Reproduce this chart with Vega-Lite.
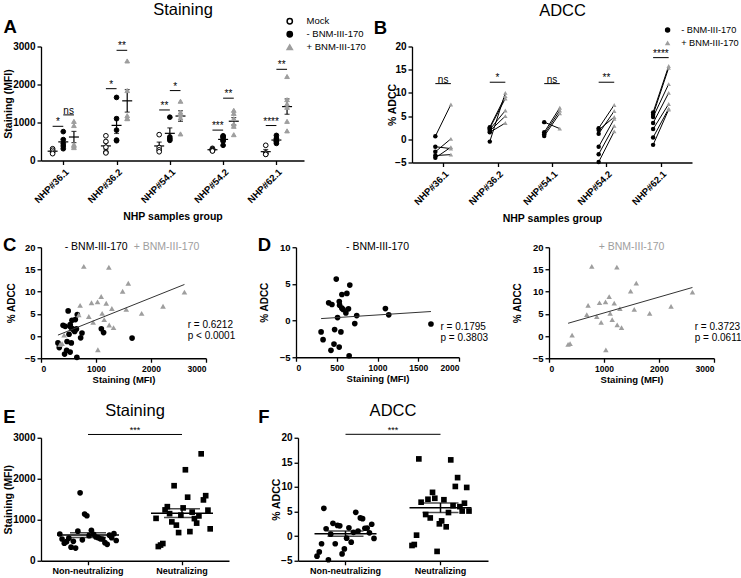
{
"$schema": "https://vega.github.io/schema/vega-lite/v6.json",
"padding": {"left": 3, "top": 1.5, "right": 0, "bottom": 0},
"background": "#ffffff",
"config": {
  "font": "Liberation Sans",
  "view": {"stroke": null},
  "axis": {"grid": false, "domainColor": "#000000", "domainWidth": 1.3, "tickColor": "#000000", "tickWidth": 1.3, "tickSize": 4, "labelColor": "#000000", "labelFont": "Liberation Sans", "labelFontWeight": "bold", "labelFontSize": 10, "labelPadding": 2, "titleFont": "Liberation Sans", "titleFontWeight": "bold", "titleFontSize": 10.5, "titleColor": "#000000", "labelOverlap": false},
  "title": {"font": "Liberation Sans", "fontSize": 18.5, "fontWeight": "bold", "anchor": "start", "frame": "bounds", "color": "#000000", "baseline": "bottom"},
  "legend": {"labelFont": "Liberation Sans", "labelFontSize": 9.5, "labelColor": "#000000", "padding": 0},
  "text": {"font": "Liberation Sans", "color": "#000000"}
},
"datasets": {
  "stain": [
    {"nhp":"NHP#36.1","cond":"Mock","mfi":310},{"nhp":"NHP#36.1","cond":"Mock","mfi":270},{"nhp":"NHP#36.1","cond":"Mock","mfi":220},{"nhp":"NHP#36.1","cond":"Mock","mfi":180},
    {"nhp":"NHP#36.1","cond":"-","mfi":760},{"nhp":"NHP#36.1","cond":"-","mfi":550},{"nhp":"NHP#36.1","cond":"-","mfi":450},{"nhp":"NHP#36.1","cond":"-","mfi":380},{"nhp":"NHP#36.1","cond":"-","mfi":310},
    {"nhp":"NHP#36.1","cond":"+","mfi":1030},{"nhp":"NHP#36.1","cond":"+","mfi":920},{"nhp":"NHP#36.1","cond":"+","mfi":420},{"nhp":"NHP#36.1","cond":"+","mfi":380},{"nhp":"NHP#36.1","cond":"+","mfi":340},
    {"nhp":"NHP#36.2","cond":"Mock","mfi":650},{"nhp":"NHP#36.2","cond":"Mock","mfi":500},{"nhp":"NHP#36.2","cond":"Mock","mfi":350},{"nhp":"NHP#36.2","cond":"Mock","mfi":220},{"nhp":"NHP#36.2","cond":"Mock","mfi":200},
    {"nhp":"NHP#36.2","cond":"-","mfi":1660},{"nhp":"NHP#36.2","cond":"-","mfi":1100},{"nhp":"NHP#36.2","cond":"-","mfi":800},{"nhp":"NHP#36.2","cond":"-","mfi":540},{"nhp":"NHP#36.2","cond":"-","mfi":520},
    {"nhp":"NHP#36.2","cond":"+","mfi":2620},{"nhp":"NHP#36.2","cond":"+","mfi":1840},{"nhp":"NHP#36.2","cond":"+","mfi":1180},{"nhp":"NHP#36.2","cond":"+","mfi":1110},{"nhp":"NHP#36.2","cond":"+","mfi":1100},
    {"nhp":"NHP#54.1","cond":"Mock","mfi":680},{"nhp":"NHP#54.1","cond":"Mock","mfi":340},{"nhp":"NHP#54.1","cond":"Mock","mfi":280},{"nhp":"NHP#54.1","cond":"Mock","mfi":230},
    {"nhp":"NHP#54.1","cond":"-","mfi":1140},{"nhp":"NHP#54.1","cond":"-","mfi":620},{"nhp":"NHP#54.1","cond":"-","mfi":570},{"nhp":"NHP#54.1","cond":"-","mfi":530},
    {"nhp":"NHP#54.1","cond":"+","mfi":1560},{"nhp":"NHP#54.1","cond":"+","mfi":1270},{"nhp":"NHP#54.1","cond":"+","mfi":1200},{"nhp":"NHP#54.1","cond":"+","mfi":1120},{"nhp":"NHP#54.1","cond":"+","mfi":700},
    {"nhp":"NHP#54.2","cond":"Mock","mfi":320},{"nhp":"NHP#54.2","cond":"Mock","mfi":300},{"nhp":"NHP#54.2","cond":"Mock","mfi":290},{"nhp":"NHP#54.2","cond":"Mock","mfi":280},{"nhp":"NHP#54.2","cond":"Mock","mfi":260},{"nhp":"NHP#54.2","cond":"Mock","mfi":250},
    {"nhp":"NHP#54.2","cond":"-","mfi":650},{"nhp":"NHP#54.2","cond":"-","mfi":630},{"nhp":"NHP#54.2","cond":"-","mfi":600},{"nhp":"NHP#54.2","cond":"-","mfi":540},{"nhp":"NHP#54.2","cond":"-","mfi":510},{"nhp":"NHP#54.2","cond":"-","mfi":400},
    {"nhp":"NHP#54.2","cond":"+","mfi":1320},{"nhp":"NHP#54.2","cond":"+","mfi":1240},{"nhp":"NHP#54.2","cond":"+","mfi":1100},{"nhp":"NHP#54.2","cond":"+","mfi":960},{"nhp":"NHP#54.2","cond":"+","mfi":900},{"nhp":"NHP#54.2","cond":"+","mfi":680},
    {"nhp":"NHP#62.1","cond":"Mock","mfi":400},{"nhp":"NHP#62.1","cond":"Mock","mfi":200},{"nhp":"NHP#62.1","cond":"Mock","mfi":170},{"nhp":"NHP#62.1","cond":"Mock","mfi":160},
    {"nhp":"NHP#62.1","cond":"-","mfi":660},{"nhp":"NHP#62.1","cond":"-","mfi":580},{"nhp":"NHP#62.1","cond":"-","mfi":540},{"nhp":"NHP#62.1","cond":"-","mfi":510},{"nhp":"NHP#62.1","cond":"-","mfi":490},{"nhp":"NHP#62.1","cond":"-","mfi":450},
    {"nhp":"NHP#62.1","cond":"+","mfi":2210},{"nhp":"NHP#62.1","cond":"+","mfi":1600},{"nhp":"NHP#62.1","cond":"+","mfi":1490},{"nhp":"NHP#62.1","cond":"+","mfi":1400},{"nhp":"NHP#62.1","cond":"+","mfi":1030},{"nhp":"NHP#62.1","cond":"+","mfi":780}
  ],
  "sigA": [
    {"nhp":"NHP#36.1","pair":"m-","mfi":900,"label":"*"},{"nhp":"NHP#36.1","pair":"-+","mfi":1200,"label":"ns"},
    {"nhp":"NHP#36.2","pair":"m-","mfi":1890,"label":"*"},{"nhp":"NHP#36.2","pair":"-+","mfi":2900,"label":"**"},
    {"nhp":"NHP#54.1","pair":"m-","mfi":1330,"label":"**"},{"nhp":"NHP#54.1","pair":"-+","mfi":1840,"label":"*"},
    {"nhp":"NHP#54.2","pair":"m-","mfi":800,"label":"***"},{"nhp":"NHP#54.2","pair":"-+","mfi":1640,"label":"**"},
    {"nhp":"NHP#62.1","pair":"m-","mfi":920,"label":"****"},{"nhp":"NHP#62.1","pair":"-+","mfi":2400,"label":"**"}
  ],
  "adccB": [
    {"nhp":"NHP#36.1","pair":1,"cond":"-","adcc":0.65},{"nhp":"NHP#36.1","pair":1,"cond":"+","adcc":7.5},
    {"nhp":"NHP#36.1","pair":2,"cond":"-","adcc":-1.6},{"nhp":"NHP#36.1","pair":2,"cond":"+","adcc":-2.0},
    {"nhp":"NHP#36.1","pair":3,"cond":"-","adcc":-2.7},{"nhp":"NHP#36.1","pair":3,"cond":"+","adcc":0.1},
    {"nhp":"NHP#36.1","pair":4,"cond":"-","adcc":-3.5},{"nhp":"NHP#36.1","pair":4,"cond":"+","adcc":-3.3},
    {"nhp":"NHP#36.1","pair":5,"cond":"-","adcc":-4.0},{"nhp":"NHP#36.1","pair":5,"cond":"+","adcc":-1.7},
    {"nhp":"NHP#36.2","pair":6,"cond":"-","adcc":-0.5},{"nhp":"NHP#36.2","pair":6,"cond":"+","adcc":10.0},
    {"nhp":"NHP#36.2","pair":7,"cond":"-","adcc":2.6},{"nhp":"NHP#36.2","pair":7,"cond":"+","adcc":9.3},
    {"nhp":"NHP#36.2","pair":8,"cond":"-","adcc":2.4},{"nhp":"NHP#36.2","pair":8,"cond":"+","adcc":8.8},
    {"nhp":"NHP#36.2","pair":9,"cond":"-","adcc":2.1},{"nhp":"NHP#36.2","pair":9,"cond":"+","adcc":6.2},
    {"nhp":"NHP#36.2","pair":10,"cond":"-","adcc":1.8},{"nhp":"NHP#36.2","pair":10,"cond":"+","adcc":5.0},
    {"nhp":"NHP#36.2","pair":11,"cond":"-","adcc":1.5},{"nhp":"NHP#36.2","pair":11,"cond":"+","adcc":3.5},
    {"nhp":"NHP#54.1","pair":12,"cond":"-","adcc":3.7},{"nhp":"NHP#54.1","pair":12,"cond":"+","adcc":2.3},
    {"nhp":"NHP#54.1","pair":13,"cond":"-","adcc":1.5},{"nhp":"NHP#54.1","pair":13,"cond":"+","adcc":6.8},
    {"nhp":"NHP#54.1","pair":14,"cond":"-","adcc":1.1},{"nhp":"NHP#54.1","pair":14,"cond":"+","adcc":6.2},
    {"nhp":"NHP#54.1","pair":15,"cond":"-","adcc":0.7},{"nhp":"NHP#54.1","pair":15,"cond":"+","adcc":5.6},
    {"nhp":"NHP#54.2","pair":16,"cond":"-","adcc":2.4},{"nhp":"NHP#54.2","pair":16,"cond":"+","adcc":7.4},
    {"nhp":"NHP#54.2","pair":17,"cond":"-","adcc":1.2},{"nhp":"NHP#54.2","pair":17,"cond":"+","adcc":6.1},
    {"nhp":"NHP#54.2","pair":18,"cond":"-","adcc":2.0},{"nhp":"NHP#54.2","pair":18,"cond":"+","adcc":4.8},
    {"nhp":"NHP#54.2","pair":19,"cond":"-","adcc":-1.6},{"nhp":"NHP#54.2","pair":19,"cond":"+","adcc":4.4},
    {"nhp":"NHP#54.2","pair":20,"cond":"-","adcc":-3.2},{"nhp":"NHP#54.2","pair":20,"cond":"+","adcc":2.9},
    {"nhp":"NHP#54.2","pair":21,"cond":"-","adcc":-4.9},{"nhp":"NHP#54.2","pair":21,"cond":"+","adcc":1.7},
    {"nhp":"NHP#62.1","pair":22,"cond":"-","adcc":5.8},{"nhp":"NHP#62.1","pair":22,"cond":"+","adcc":15.8},
    {"nhp":"NHP#62.1","pair":23,"cond":"-","adcc":5.3},{"nhp":"NHP#62.1","pair":23,"cond":"+","adcc":15.4},
    {"nhp":"NHP#62.1","pair":24,"cond":"-","adcc":4.8},{"nhp":"NHP#62.1","pair":24,"cond":"+","adcc":11.9},
    {"nhp":"NHP#62.1","pair":25,"cond":"-","adcc":3.5},{"nhp":"NHP#62.1","pair":25,"cond":"+","adcc":10.0},
    {"nhp":"NHP#62.1","pair":26,"cond":"-","adcc":2.2},{"nhp":"NHP#62.1","pair":26,"cond":"+","adcc":7.6},
    {"nhp":"NHP#62.1","pair":27,"cond":"-","adcc":0.4},{"nhp":"NHP#62.1","pair":27,"cond":"+","adcc":6.6},
    {"nhp":"NHP#62.1","pair":28,"cond":"-","adcc":-1.2},{"nhp":"NHP#62.1","pair":28,"cond":"+","adcc":6.4}
  ],
  "sigB": [
    {"nhp":"NHP#36.1","adcc":12.0,"label":"ns"},{"nhp":"NHP#36.2","adcc":12.3,"label":"*"},{"nhp":"NHP#54.1","adcc":12.0,"label":"ns"},{"nhp":"NHP#54.2","adcc":12.3,"label":"**"},{"nhp":"NHP#62.1","adcc":17.6,"label":"****"}
  ],
  "samples": [
    {"id":"S01","cond":"-","staining":494,"adcc":5.66},{"id":"S02","cond":"-","staining":660,"adcc":4.84},{"id":"S03","cond":"-","staining":563,"adcc":3.56},{"id":"S04","cond":"-","staining":624,"adcc":3.70},
    {"id":"S05","cond":"-","staining":401,"adcc":2.42},{"id":"S06","cond":"-","staining":441,"adcc":2.19},{"id":"S07","cond":"-","staining":531,"adcc":2.60},{"id":"S08","cond":"-","staining":535,"adcc":2.10},
    {"id":"S09","cond":"-","staining":563,"adcc":1.69},{"id":"S10","cond":"-","staining":579,"adcc":1.51},{"id":"S11","cond":"-","staining":612,"adcc":1.05},{"id":"S12","cond":"-","staining":644,"adcc":1.60},
    {"id":"S13","cond":"-","staining":745,"adcc":0.68},{"id":"S14","cond":"-","staining":1097,"adcc":1.64},{"id":"S15","cond":"-","staining":1138,"adcc":0.78},{"id":"S16","cond":"-","staining":510,"adcc":0.41},
    {"id":"S17","cond":"-","staining":1656,"adcc":-0.46},{"id":"S18","cond":"-","staining":721,"adcc":-0.41},{"id":"S19","cond":"-","staining":308,"adcc":-1.55},{"id":"S20","cond":"-","staining":332,"adcc":-2.60},
    {"id":"S21","cond":"-","staining":474,"adcc":-1.23},{"id":"S22","cond":"-","staining":551,"adcc":-1.55},{"id":"S23","cond":"-","staining":466,"adcc":-3.20},{"id":"S24","cond":"-","staining":429,"adcc":-4.06},
    {"id":"S25","cond":"-","staining":530,"adcc":-3.61},{"id":"S26","cond":"-","staining":652,"adcc":-4.79},
    {"id":"S01","cond":"+","staining":778,"adcc":15.7},{"id":"S02","cond":"+","staining":1234,"adcc":15.5},{"id":"S03","cond":"+","staining":1587,"adcc":11.9},{"id":"S04","cond":"+","staining":1484,"adcc":10.1},
    {"id":"S05","cond":"+","staining":2608,"adcc":9.9},{"id":"S06","cond":"+","staining":1094,"adcc":8.9},{"id":"S07","cond":"+","staining":918,"adcc":7.5},{"id":"S08","cond":"+","staining":1028,"adcc":7.7},
    {"id":"S09","cond":"+","staining":1186,"adcc":7.4},{"id":"S10","cond":"+","staining":711,"adcc":6.9},{"id":"S11","cond":"+","staining":1289,"adcc":6.2},{"id":"S12","cond":"+","staining":1550,"adcc":6.0},
    {"id":"S13","cond":"+","staining":2219,"adcc":6.7},{"id":"S14","cond":"+","staining":1112,"adcc":5.1},{"id":"S15","cond":"+","staining":687,"adcc":4.8},{"id":"S16","cond":"+","staining":869,"adcc":4.4},
    {"id":"S17","cond":"+","staining":1830,"adcc":5.1},{"id":"S18","cond":"+","staining":948,"adcc":3.1},{"id":"S19","cond":"+","staining":1149,"adcc":3.7},{"id":"S20","cond":"+","staining":1240,"adcc":2.5},
    {"id":"S21","cond":"+","staining":1319,"adcc":1.9},{"id":"S22","cond":"+","staining":420,"adcc":0.2},{"id":"S23","cond":"+","staining":383,"adcc":-1.7},{"id":"S24","cond":"+","staining":347,"adcc":-1.9},
    {"id":"S25","cond":"+","staining":1034,"adcc":-3.1}
  ]
},
"spacing": 11.75,
"resolve": {"scale": {"color": "independent", "shape": "independent", "fill": "independent", "stroke": "independent", "xOffset": "independent"}, "legend": {"color": "independent", "shape": "independent", "fill": "independent", "stroke": "independent"}},
"vconcat": [
{
  "hconcat": [
  {
    "width": 263, "height": 114,
    "title": {"text": "A", "offset": -34},
    "layer": [
      {"data": {"name": "stain"}, "transform": [{"calculate": "datum.cond === '-' ? datum.nhp : datum.nhp + ' ' + datum.cond", "as": "col"}],
       "mark": {"type": "errorbar", "extent": "stderr", "color": "#000000", "thickness": 1.2, "ticks": {"size": 5}},
       "encoding": {
        "x": {"field": "col", "type": "nominal", "title": "NHP samples group", "scale": {"type": "point", "padding": 0.18, "domain": ["NHP#36.1 a","NHP#36.1 b","NHP#36.1 Mock","NHP#36.1 m-","NHP#36.1","NHP#36.1 -+","NHP#36.1 +","NHP#36.1 c","NHP#36.1 d","NHP#36.1 e","NHP#36.2 a","NHP#36.2 b","NHP#36.2 Mock","NHP#36.2 m-","NHP#36.2","NHP#36.2 -+","NHP#36.2 +","NHP#36.2 c","NHP#36.2 d","NHP#36.2 e","NHP#54.1 a","NHP#54.1 b","NHP#54.1 Mock","NHP#54.1 m-","NHP#54.1","NHP#54.1 -+","NHP#54.1 +","NHP#54.1 c","NHP#54.1 d","NHP#54.1 e","NHP#54.2 a","NHP#54.2 b","NHP#54.2 Mock","NHP#54.2 m-","NHP#54.2","NHP#54.2 -+","NHP#54.2 +","NHP#54.2 c","NHP#54.2 d","NHP#54.2 e","NHP#62.1 a","NHP#62.1 b","NHP#62.1 Mock","NHP#62.1 m-","NHP#62.1","NHP#62.1 -+","NHP#62.1 +","NHP#62.1 c","NHP#62.1 d","NHP#62.1 e"]}, "axis": {"values": ["NHP#36.1","NHP#36.2","NHP#54.1","NHP#54.2","NHP#62.1"], "labelAngle": -45, "labelFontSize": 9.5, "titleFontSize": 10.5, "titlePadding": 7, "labelOverlap": false}},
        "y": {"field": "mfi", "type": "quantitative", "title": "Staining (MFI)", "scale": {"domain": [0, 3000], "nice": false, "zero": false}, "axis": {"values": [0, 1000, 2000, 3000], "format": "d", "labelFontSize": 10, "titleX": -32.5, "titleBaseline": "middle", "labelOverlap": false}}
       }},
      {"data": {"name": "stain"}, "transform": [{"calculate": "datum.cond === '-' ? datum.nhp : datum.nhp + ' ' + datum.cond", "as": "col"}],
       "mark": {"type": "tick", "color": "#000000", "size": 10, "thickness": 1.2},
       "encoding": {
        "x": {"field": "col", "type": "nominal", "title": "NHP samples group", "scale": {"type": "point", "padding": 0.18, "domain": ["NHP#36.1 a","NHP#36.1 b","NHP#36.1 Mock","NHP#36.1 m-","NHP#36.1","NHP#36.1 -+","NHP#36.1 +","NHP#36.1 c","NHP#36.1 d","NHP#36.1 e","NHP#36.2 a","NHP#36.2 b","NHP#36.2 Mock","NHP#36.2 m-","NHP#36.2","NHP#36.2 -+","NHP#36.2 +","NHP#36.2 c","NHP#36.2 d","NHP#36.2 e","NHP#54.1 a","NHP#54.1 b","NHP#54.1 Mock","NHP#54.1 m-","NHP#54.1","NHP#54.1 -+","NHP#54.1 +","NHP#54.1 c","NHP#54.1 d","NHP#54.1 e","NHP#54.2 a","NHP#54.2 b","NHP#54.2 Mock","NHP#54.2 m-","NHP#54.2","NHP#54.2 -+","NHP#54.2 +","NHP#54.2 c","NHP#54.2 d","NHP#54.2 e","NHP#62.1 a","NHP#62.1 b","NHP#62.1 Mock","NHP#62.1 m-","NHP#62.1","NHP#62.1 -+","NHP#62.1 +","NHP#62.1 c","NHP#62.1 d","NHP#62.1 e"]}, "axis": {"values": ["NHP#36.1","NHP#36.2","NHP#54.1","NHP#54.2","NHP#62.1"], "labelAngle": -45, "labelFontSize": 9.5, "titleFontSize": 10.5, "titlePadding": 7, "labelOverlap": false}},
        "y": {"aggregate": "mean", "field": "mfi", "type": "quantitative", "title": "Staining (MFI)", "scale": {"domain": [0, 3000], "nice": false, "zero": false}, "axis": {"values": [0, 1000, 2000, 3000], "format": "d", "labelFontSize": 10, "titleX": -32.5, "titleBaseline": "middle", "labelOverlap": false}}
       }},
      {"data": {"name": "stain"}, "transform": [{"calculate": "datum.cond === '-' ? datum.nhp : datum.nhp + ' ' + datum.cond", "as": "col"}],
       "mark": {"type": "point", "filled": true, "size": 22, "strokeWidth": 1, "opacity": 1},
       "encoding": {
        "x": {"field": "col", "type": "nominal", "title": "NHP samples group", "scale": {"type": "point", "padding": 0.18, "domain": ["NHP#36.1 a","NHP#36.1 b","NHP#36.1 Mock","NHP#36.1 m-","NHP#36.1","NHP#36.1 -+","NHP#36.1 +","NHP#36.1 c","NHP#36.1 d","NHP#36.1 e","NHP#36.2 a","NHP#36.2 b","NHP#36.2 Mock","NHP#36.2 m-","NHP#36.2","NHP#36.2 -+","NHP#36.2 +","NHP#36.2 c","NHP#36.2 d","NHP#36.2 e","NHP#54.1 a","NHP#54.1 b","NHP#54.1 Mock","NHP#54.1 m-","NHP#54.1","NHP#54.1 -+","NHP#54.1 +","NHP#54.1 c","NHP#54.1 d","NHP#54.1 e","NHP#54.2 a","NHP#54.2 b","NHP#54.2 Mock","NHP#54.2 m-","NHP#54.2","NHP#54.2 -+","NHP#54.2 +","NHP#54.2 c","NHP#54.2 d","NHP#54.2 e","NHP#62.1 a","NHP#62.1 b","NHP#62.1 Mock","NHP#62.1 m-","NHP#62.1","NHP#62.1 -+","NHP#62.1 +","NHP#62.1 c","NHP#62.1 d","NHP#62.1 e"]}, "axis": {"values": ["NHP#36.1","NHP#36.2","NHP#54.1","NHP#54.2","NHP#62.1"], "labelAngle": -45, "labelFontSize": 9.5, "titleFontSize": 10.5, "titlePadding": 7, "labelOverlap": false}},
        "y": {"field": "mfi", "type": "quantitative", "title": "Staining (MFI)", "scale": {"domain": [0, 3000], "nice": false, "zero": false}, "axis": {"values": [0, 1000, 2000, 3000], "format": "d", "labelFontSize": 10, "titleX": -32.5, "titleBaseline": "middle", "labelOverlap": false}},
        "shape": {"field": "cond", "type": "nominal", "scale": {"domain": ["Mock", "-", "+"], "range": ["circle", "circle", "triangle-up"]},
          "legend": {"title": null, "orient": "none", "legendX": 244, "legendY": -30, "symbolSize": 28, "labelOffset": 12, "rowPadding": 1,
            "labelExpr": "datum.value === 'Mock' ? 'Mock' : datum.value === '-' ? ' - BNM-III-170' : '+ BNM-III-170'",
            "encode": {"symbols": {"update": {"fill": {"signal": "datum.value === 'Mock' ? '#ffffff' : datum.value === '-' ? '#000000' : '#9e9e9e'"}, "stroke": {"signal": "datum.value === '+' ? '#9e9e9e' : '#000000'"}, "strokeWidth": {"value": 1}}},
                       "labels": {"update": {"fill": {"signal": "datum.value === '+' ? '#9e9e9e' : '#000000'"}}}}}},
        "fill": {"field": "cond", "type": "nominal", "scale": {"domain": ["Mock", "-", "+"], "range": ["#ffffff", "#000000", "#9e9e9e"]}, "legend": null},
        "stroke": {"field": "cond", "type": "nominal", "scale": {"domain": ["Mock", "-", "+"], "range": ["#000000", "#000000", "#9e9e9e"]}, "legend": null}
       }},
      {"data": {"name": "sigA"}, "transform": [
         {"calculate": "datum.pair === 'm-' ? datum.nhp + ' Mock' : datum.nhp", "as": "col"},
         {"calculate": "datum.pair === 'm-' ? datum.nhp : datum.nhp + ' +'", "as": "col2"}],
       "mark": {"type": "rule", "color": "#000000", "strokeWidth": 1},
       "encoding": {
        "x": {"field": "col", "type": "nominal", "title": "NHP samples group", "scale": {"type": "point", "padding": 0.18, "domain": ["NHP#36.1 a","NHP#36.1 b","NHP#36.1 Mock","NHP#36.1 m-","NHP#36.1","NHP#36.1 -+","NHP#36.1 +","NHP#36.1 c","NHP#36.1 d","NHP#36.1 e","NHP#36.2 a","NHP#36.2 b","NHP#36.2 Mock","NHP#36.2 m-","NHP#36.2","NHP#36.2 -+","NHP#36.2 +","NHP#36.2 c","NHP#36.2 d","NHP#36.2 e","NHP#54.1 a","NHP#54.1 b","NHP#54.1 Mock","NHP#54.1 m-","NHP#54.1","NHP#54.1 -+","NHP#54.1 +","NHP#54.1 c","NHP#54.1 d","NHP#54.1 e","NHP#54.2 a","NHP#54.2 b","NHP#54.2 Mock","NHP#54.2 m-","NHP#54.2","NHP#54.2 -+","NHP#54.2 +","NHP#54.2 c","NHP#54.2 d","NHP#54.2 e","NHP#62.1 a","NHP#62.1 b","NHP#62.1 Mock","NHP#62.1 m-","NHP#62.1","NHP#62.1 -+","NHP#62.1 +","NHP#62.1 c","NHP#62.1 d","NHP#62.1 e"]}, "axis": {"values": ["NHP#36.1","NHP#36.2","NHP#54.1","NHP#54.2","NHP#62.1"], "labelAngle": -45, "labelFontSize": 9.5, "titleFontSize": 10.5, "titlePadding": 7, "labelOverlap": false}},
        "x2": {"field": "col2"},
        "y": {"field": "mfi", "type": "quantitative", "title": "Staining (MFI)", "scale": {"domain": [0, 3000], "nice": false, "zero": false}, "axis": {"values": [0, 1000, 2000, 3000], "format": "d", "labelFontSize": 10, "titleX": -32.5, "titleBaseline": "middle", "labelOverlap": false}}
       }},
      {"data": {"name": "sigA"}, "transform": [{"calculate": "datum.nhp + ' ' + datum.pair", "as": "col"}],
       "mark": {"type": "text", "baseline": "alphabetic", "fontSize": 10, "dy": -1},
       "encoding": {
        "x": {"field": "col", "type": "nominal", "title": "NHP samples group", "scale": {"type": "point", "padding": 0.18, "domain": ["NHP#36.1 a","NHP#36.1 b","NHP#36.1 Mock","NHP#36.1 m-","NHP#36.1","NHP#36.1 -+","NHP#36.1 +","NHP#36.1 c","NHP#36.1 d","NHP#36.1 e","NHP#36.2 a","NHP#36.2 b","NHP#36.2 Mock","NHP#36.2 m-","NHP#36.2","NHP#36.2 -+","NHP#36.2 +","NHP#36.2 c","NHP#36.2 d","NHP#36.2 e","NHP#54.1 a","NHP#54.1 b","NHP#54.1 Mock","NHP#54.1 m-","NHP#54.1","NHP#54.1 -+","NHP#54.1 +","NHP#54.1 c","NHP#54.1 d","NHP#54.1 e","NHP#54.2 a","NHP#54.2 b","NHP#54.2 Mock","NHP#54.2 m-","NHP#54.2","NHP#54.2 -+","NHP#54.2 +","NHP#54.2 c","NHP#54.2 d","NHP#54.2 e","NHP#62.1 a","NHP#62.1 b","NHP#62.1 Mock","NHP#62.1 m-","NHP#62.1","NHP#62.1 -+","NHP#62.1 +","NHP#62.1 c","NHP#62.1 d","NHP#62.1 e"]}, "axis": {"values": ["NHP#36.1","NHP#36.2","NHP#54.1","NHP#54.2","NHP#62.1"], "labelAngle": -45, "labelFontSize": 9.5, "titleFontSize": 10.5, "titlePadding": 7, "labelOverlap": false}},
        "y": {"field": "mfi", "type": "quantitative", "title": "Staining (MFI)", "scale": {"domain": [0, 3000], "nice": false, "zero": false}, "axis": {"values": [0, 1000, 2000, 3000], "format": "d", "labelFontSize": 10, "titleX": -32.5, "titleBaseline": "middle", "labelOverlap": false}},
        "text": {"field": "label"}
       }},
      {"data": {"values": [{}]},
       "mark": {"type": "text", "fontSize": 16.5, "baseline": "middle", "align": "center", "dx": 10.5},
       "encoding": {
        "y": {"datum": 3950, "type": "quantitative", "title": "Staining (MFI)", "scale": {"domain": [0, 3000], "nice": false, "zero": false}, "axis": {"values": [0, 1000, 2000, 3000], "format": "d", "labelFontSize": 10, "titleX": -32.5, "titleBaseline": "middle", "labelOverlap": false}},
        "text": {"value": "Staining"}
       }}
    ]
  },
  {
    "width": 280, "height": 116,
    "title": {"text": "B", "offset": -34, "dx": -14},
    "layer": [
      {"data": {"name": "adccB"}, "transform": [{"calculate": "datum.nhp + ' ' + datum.cond", "as": "col"}],
       "mark": {"type": "line", "color": "#000000", "strokeWidth": 1},
       "encoding": {
        "x": {"field": "col", "type": "nominal", "title": "NHP samples group", "scale": {"type": "point", "padding": 1, "domain": ["NHP#36.1 a","NHP#36.1 b","NHP#36.1 -","NHP#36.1","NHP#36.1 +","NHP#36.1 c","NHP#36.1 d","NHP#36.2 a","NHP#36.2 b","NHP#36.2 -","NHP#36.2","NHP#36.2 +","NHP#36.2 c","NHP#36.2 d","NHP#54.1 a","NHP#54.1 b","NHP#54.1 -","NHP#54.1","NHP#54.1 +","NHP#54.1 c","NHP#54.1 d","NHP#54.2 a","NHP#54.2 b","NHP#54.2 -","NHP#54.2","NHP#54.2 +","NHP#54.2 c","NHP#54.2 d","NHP#62.1 a","NHP#62.1 b","NHP#62.1 -","NHP#62.1","NHP#62.1 +","NHP#62.1 c","NHP#62.1 d"]}, "axis": {"values": ["NHP#36.1","NHP#36.2","NHP#54.1","NHP#54.2","NHP#62.1"], "labelAngle": -45, "labelFontSize": 9.5, "titleFontSize": 10.5, "titlePadding": 7, "labelOverlap": false}},
        "y": {"field": "adcc", "type": "quantitative", "title": "% ADCC", "scale": {"domain": [-5, 20], "nice": false, "zero": false}, "axis": {"values": [-5, 0, 5, 10, 15, 20], "labelFontSize": 10, "titleX": -19.3, "titleBaseline": "middle", "labelOverlap": false}},
        "detail": {"field": "pair", "type": "nominal"}
       }},
      {"data": {"name": "adccB"}, "transform": [{"calculate": "datum.nhp + ' ' + datum.cond", "as": "col"}],
       "mark": {"type": "point", "filled": true, "size": 20, "opacity": 1},
       "encoding": {
        "x": {"field": "col", "type": "nominal", "title": "NHP samples group", "scale": {"type": "point", "padding": 1, "domain": ["NHP#36.1 a","NHP#36.1 b","NHP#36.1 -","NHP#36.1","NHP#36.1 +","NHP#36.1 c","NHP#36.1 d","NHP#36.2 a","NHP#36.2 b","NHP#36.2 -","NHP#36.2","NHP#36.2 +","NHP#36.2 c","NHP#36.2 d","NHP#54.1 a","NHP#54.1 b","NHP#54.1 -","NHP#54.1","NHP#54.1 +","NHP#54.1 c","NHP#54.1 d","NHP#54.2 a","NHP#54.2 b","NHP#54.2 -","NHP#54.2","NHP#54.2 +","NHP#54.2 c","NHP#54.2 d","NHP#62.1 a","NHP#62.1 b","NHP#62.1 -","NHP#62.1","NHP#62.1 +","NHP#62.1 c","NHP#62.1 d"]}, "axis": {"values": ["NHP#36.1","NHP#36.2","NHP#54.1","NHP#54.2","NHP#62.1"], "labelAngle": -45, "labelFontSize": 9.5, "titleFontSize": 10.5, "titlePadding": 7, "labelOverlap": false}},
        "y": {"field": "adcc", "type": "quantitative", "title": "% ADCC", "scale": {"domain": [-5, 20], "nice": false, "zero": false}, "axis": {"values": [-5, 0, 5, 10, 15, 20], "labelFontSize": 10, "titleX": -19.3, "titleBaseline": "middle", "labelOverlap": false}},
        "color": {"field": "cond", "type": "nominal", "scale": {"domain": ["-", "+"], "range": ["#000000", "#9e9e9e"]},
          "legend": {"title": null, "orient": "none", "legendX": 251, "legendY": -21, "symbolSize": 30, "labelOffset": 9, "rowPadding": 2.8, "labelFontSize": 9.2,
            "labelExpr": "datum.value === '-' ? '- BNM-III-170' : '+ BNM-III-170'",
            "encode": {"labels": {"update": {"fill": {"signal": "datum.value === '+' ? '#9e9e9e' : '#000000'"}}}}}},
        "shape": {"field": "cond", "type": "nominal", "scale": {"domain": ["-", "+"], "range": ["circle", "triangle-up"]},
          "legend": {"title": null, "orient": "none", "legendX": 251, "legendY": -21, "symbolSize": 30, "labelOffset": 9, "rowPadding": 2.8, "labelFontSize": 9.2,
            "labelExpr": "datum.value === '-' ? '- BNM-III-170' : '+ BNM-III-170'",
            "encode": {"labels": {"update": {"fill": {"signal": "datum.value === '+' ? '#9e9e9e' : '#000000'"}}}}}}
       }},
      {"data": {"name": "sigB"}, "transform": [
         {"calculate": "datum.nhp + ' -'", "as": "col"},
         {"calculate": "datum.nhp + ' +'", "as": "col2"}],
       "mark": {"type": "rule", "color": "#000000", "strokeWidth": 1},
       "encoding": {
        "x": {"field": "col", "type": "nominal", "title": "NHP samples group", "scale": {"type": "point", "padding": 1, "domain": ["NHP#36.1 a","NHP#36.1 b","NHP#36.1 -","NHP#36.1","NHP#36.1 +","NHP#36.1 c","NHP#36.1 d","NHP#36.2 a","NHP#36.2 b","NHP#36.2 -","NHP#36.2","NHP#36.2 +","NHP#36.2 c","NHP#36.2 d","NHP#54.1 a","NHP#54.1 b","NHP#54.1 -","NHP#54.1","NHP#54.1 +","NHP#54.1 c","NHP#54.1 d","NHP#54.2 a","NHP#54.2 b","NHP#54.2 -","NHP#54.2","NHP#54.2 +","NHP#54.2 c","NHP#54.2 d","NHP#62.1 a","NHP#62.1 b","NHP#62.1 -","NHP#62.1","NHP#62.1 +","NHP#62.1 c","NHP#62.1 d"]}, "axis": {"values": ["NHP#36.1","NHP#36.2","NHP#54.1","NHP#54.2","NHP#62.1"], "labelAngle": -45, "labelFontSize": 9.5, "titleFontSize": 10.5, "titlePadding": 7, "labelOverlap": false}},
        "x2": {"field": "col2"},
        "y": {"field": "adcc", "type": "quantitative", "title": "% ADCC", "scale": {"domain": [-5, 20], "nice": false, "zero": false}, "axis": {"values": [-5, 0, 5, 10, 15, 20], "labelFontSize": 10, "titleX": -19.3, "titleBaseline": "middle", "labelOverlap": false}}
       }},
      {"data": {"name": "sigB"}, "transform": [{"calculate": "datum.nhp", "as": "col"}],
       "mark": {"type": "text", "baseline": "alphabetic", "fontSize": 10, "dy": -1},
       "encoding": {
        "x": {"field": "col", "type": "nominal", "title": "NHP samples group", "scale": {"type": "point", "padding": 1, "domain": ["NHP#36.1 a","NHP#36.1 b","NHP#36.1 -","NHP#36.1","NHP#36.1 +","NHP#36.1 c","NHP#36.1 d","NHP#36.2 a","NHP#36.2 b","NHP#36.2 -","NHP#36.2","NHP#36.2 +","NHP#36.2 c","NHP#36.2 d","NHP#54.1 a","NHP#54.1 b","NHP#54.1 -","NHP#54.1","NHP#54.1 +","NHP#54.1 c","NHP#54.1 d","NHP#54.2 a","NHP#54.2 b","NHP#54.2 -","NHP#54.2","NHP#54.2 +","NHP#54.2 c","NHP#54.2 d","NHP#62.1 a","NHP#62.1 b","NHP#62.1 -","NHP#62.1","NHP#62.1 +","NHP#62.1 c","NHP#62.1 d"]}, "axis": {"values": ["NHP#36.1","NHP#36.2","NHP#54.1","NHP#54.2","NHP#62.1"], "labelAngle": -45, "labelFontSize": 9.5, "titleFontSize": 10.5, "titlePadding": 7, "labelOverlap": false}},
        "y": {"field": "adcc", "type": "quantitative", "title": "% ADCC", "scale": {"domain": [-5, 20], "nice": false, "zero": false}, "axis": {"values": [-5, 0, 5, 10, 15, 20], "labelFontSize": 10, "titleX": -19.3, "titleBaseline": "middle", "labelOverlap": false}},
        "text": {"field": "label"}
       }},
      {"data": {"values": [{}]},
       "mark": {"type": "text", "fontSize": 16.5, "baseline": "middle", "align": "center", "dx": 10.5},
       "encoding": {
        "y": {"datum": 27.6, "type": "quantitative", "title": "% ADCC", "scale": {"domain": [-5, 20], "nice": false, "zero": false}, "axis": {"values": [-5, 0, 5, 10, 15, 20], "labelFontSize": 10, "titleX": -19.3, "titleBaseline": "middle", "labelOverlap": false}},
        "text": {"value": "ADCC"}
       }}
    ]
  }
  ],
  "spacing": 108,
  "bounds": "flush",
  "resolve": {"scale": {"color": "independent", "shape": "independent", "fill": "independent", "stroke": "independent"}, "legend": {"color": "independent", "shape": "independent", "fill": "independent", "stroke": "independent"}}
},
{
"spacing": 17.5,
"resolve": {"scale": {"color": "independent", "shape": "independent", "xOffset": "independent"}, "legend": {"color": "independent", "shape": "independent"}},
"vconcat": [
{
  "hconcat": [
  {
    "width": 165, "height": 111,
    "title": {"text": "C", "offset": -12.5, "dx": -3},
    "layer": [
      {"data": {"name": "samples"},
       "mark": {"type": "point", "filled": true, "size": 32, "opacity": 1},
       "encoding": {
         "x": {"field": "staining", "type": "quantitative", "title": "Staining (MFI)", "scale": {"domain": [0, 3000], "nice": false, "zero": false}, "axis": {"values": [0, 1000, 2000, 3000], "format": "d", "labelFontSize": 8.5, "titleFontSize": 9.5, "titlePadding": 2, "labelOverlap": false}},
         "y": {"field": "adcc", "type": "quantitative", "title": "% ADCC", "scale": {"domain": [-5, 20], "nice": false, "zero": false}, "axis": {"values": [-5, 0, 5, 10, 15, 20], "labelFontSize": 9.5, "titleFontSize": 10, "titleX": -30, "titleBaseline": "middle", "labelOverlap": false}},
         "color": {"field": "cond", "type": "nominal", "scale": {"domain": ["-", "+"], "range": ["#000000", "#9e9e9e"]}, "legend": null},
         "shape": {"field": "cond", "type": "nominal", "scale": {"domain": ["-", "+"], "range": ["circle", "triangle-up"]}, "legend": null}
       }},
      {"data": {"name": "samples"}, "transform": [{"regression": "adcc", "on": "staining"}],
       "mark": {"type": "line", "color": "#333333", "strokeWidth": 1},
       "encoding": {
         "x": {"field": "staining", "type": "quantitative", "title": "Staining (MFI)", "scale": {"domain": [0, 3000], "nice": false, "zero": false}, "axis": {"values": [0, 1000, 2000, 3000], "format": "d", "labelFontSize": 8.5, "titleFontSize": 9.5, "titlePadding": 2, "labelOverlap": false}},
         "y": {"field": "adcc", "type": "quantitative", "title": "% ADCC", "scale": {"domain": [-5, 20], "nice": false, "zero": false}, "axis": {"values": [-5, 0, 5, 10, 15, 20], "labelFontSize": 9.5, "titleFontSize": 10, "titleX": -30, "titleBaseline": "middle", "labelOverlap": false}}
       }},
      {"data": {"values": [{}]},
       "mark": {"type": "text", "align": "left", "baseline": "middle", "fontSize": 10, "lineHeight": 11},
       "encoding": {
         "x": {"datum": 2667, "type": "quantitative", "title": "Staining (MFI)", "scale": {"domain": [0, 3000], "nice": false, "zero": false}, "axis": {"values": [0, 1000, 2000, 3000], "format": "d", "labelFontSize": 8.5, "titleFontSize": 9.5, "titlePadding": 2, "labelOverlap": false}},
         "y": {"datum": 2.6, "type": "quantitative", "title": "% ADCC", "scale": {"domain": [-5, 20], "nice": false, "zero": false}, "axis": {"values": [-5, 0, 5, 10, 15, 20], "labelFontSize": 9.5, "titleFontSize": 10, "titleX": -30, "titleBaseline": "middle", "labelOverlap": false}},
         "text": {"value": ["r = 0.6212", "p < 0.0001"]}
       }},
      {"data": {"values": [{}]},
       "mark": {"type": "text", "align": "left", "baseline": "middle", "fontSize": 10.5},
       "encoding": {
         "x": {"datum": 430, "type": "quantitative", "title": "Staining (MFI)", "scale": {"domain": [0, 3000], "nice": false, "zero": false}, "axis": {"values": [0, 1000, 2000, 3000], "format": "d", "labelFontSize": 8.5, "titleFontSize": 9.5, "titlePadding": 2, "labelOverlap": false}},
         "y": {"datum": 20, "type": "quantitative", "title": "% ADCC", "scale": {"domain": [-5, 20], "nice": false, "zero": false}, "axis": {"values": [-5, 0, 5, 10, 15, 20], "labelFontSize": 9.5, "titleFontSize": 10, "titleX": -30, "titleBaseline": "middle", "labelOverlap": false}},
         "text": {"value": "- BNM-III-170"}
       }},
      {"data": {"values": [{}]},
       "mark": {"type": "text", "align": "left", "baseline": "middle", "fontSize": 10.5, "color": "#9e9e9e"},
       "encoding": {
         "x": {"datum": 1685, "type": "quantitative", "title": "Staining (MFI)", "scale": {"domain": [0, 3000], "nice": false, "zero": false}, "axis": {"values": [0, 1000, 2000, 3000], "format": "d", "labelFontSize": 8.5, "titleFontSize": 9.5, "titlePadding": 2, "labelOverlap": false}},
         "y": {"datum": 20, "type": "quantitative", "title": "% ADCC", "scale": {"domain": [-5, 20], "nice": false, "zero": false}, "axis": {"values": [-5, 0, 5, 10, 15, 20], "labelFontSize": 9.5, "titleFontSize": 10, "titleX": -30, "titleBaseline": "middle", "labelOverlap": false}},
         "text": {"value": "+ BNM-III-170"}
       }}
    ]
  },
  {
    "width": 163, "height": 110,
    "title": {"text": "D", "offset": -12.5, "dx": -2},
    "layer": [
      {"data": {"name": "samples"}, "transform": [{"filter": "datum.cond === '-'"}],
       "mark": {"type": "point", "filled": true, "size": 32, "opacity": 1, "color": "#000000"},
       "encoding": {
         "x": {"field": "staining", "type": "quantitative", "title": "Staining (MFI)", "scale": {"domain": [0, 2000], "nice": false, "zero": false}, "axis": {"values": [0, 500, 1000, 1500, 2000], "format": "d", "labelFontSize": 8.5, "titleFontSize": 9.5, "titlePadding": 2, "labelOverlap": false}},
         "y": {"field": "adcc", "type": "quantitative", "title": "% ADCC", "scale": {"domain": [-5, 10], "nice": false, "zero": false}, "axis": {"values": [-5, 0, 5, 10], "labelFontSize": 9.5, "titleFontSize": 10, "titleX": -31.3, "titleBaseline": "middle", "labelOverlap": false}}
       }},
      {"data": {"name": "samples"}, "transform": [{"filter": "datum.cond === '-'"}, {"regression": "adcc", "on": "staining"}],
       "mark": {"type": "line", "color": "#333333", "strokeWidth": 1},
       "encoding": {
         "x": {"field": "staining", "type": "quantitative", "title": "Staining (MFI)", "scale": {"domain": [0, 2000], "nice": false, "zero": false}, "axis": {"values": [0, 500, 1000, 1500, 2000], "format": "d", "labelFontSize": 8.5, "titleFontSize": 9.5, "titlePadding": 2, "labelOverlap": false}},
         "y": {"field": "adcc", "type": "quantitative", "title": "% ADCC", "scale": {"domain": [-5, 10], "nice": false, "zero": false}, "axis": {"values": [-5, 0, 5, 10], "labelFontSize": 9.5, "titleFontSize": 10, "titleX": -31.3, "titleBaseline": "middle", "labelOverlap": false}}
       }},
      {"data": {"values": [{}]},
       "mark": {"type": "text", "align": "left", "baseline": "middle", "fontSize": 10, "lineHeight": 11},
       "encoding": {
         "x": {"datum": 1773, "type": "quantitative", "title": "Staining (MFI)", "scale": {"domain": [0, 2000], "nice": false, "zero": false}, "axis": {"values": [0, 500, 1000, 1500, 2000], "format": "d", "labelFontSize": 8.5, "titleFontSize": 9.5, "titlePadding": 2, "labelOverlap": false}},
         "y": {"datum": -0.93, "type": "quantitative", "title": "% ADCC", "scale": {"domain": [-5, 10], "nice": false, "zero": false}, "axis": {"values": [-5, 0, 5, 10], "labelFontSize": 9.5, "titleFontSize": 10, "titleX": -31.3, "titleBaseline": "middle", "labelOverlap": false}},
         "text": {"value": ["r = 0.1795", "p = 0.3803"]}
       }},
      {"data": {"values": [{}]},
       "mark": {"type": "text", "align": "center", "baseline": "middle", "fontSize": 10.5},
       "encoding": {
         "x": {"datum": 1000, "type": "quantitative", "title": "Staining (MFI)", "scale": {"domain": [0, 2000], "nice": false, "zero": false}, "axis": {"values": [0, 500, 1000, 1500, 2000], "format": "d", "labelFontSize": 8.5, "titleFontSize": 9.5, "titlePadding": 2, "labelOverlap": false}},
         "y": {"datum": 10, "type": "quantitative", "title": "% ADCC", "scale": {"domain": [-5, 10], "nice": false, "zero": false}, "axis": {"values": [-5, 0, 5, 10], "labelFontSize": 9.5, "titleFontSize": 10, "titleX": -31.3, "titleBaseline": "middle", "labelOverlap": false}},
         "text": {"value": "- BNM-III-170"}
       }}
    ]
  },
  {
    "width": 165, "height": 111,
    "layer": [
      {"data": {"name": "samples"}, "transform": [{"filter": "datum.cond === '+'"}],
       "mark": {"type": "point", "shape": "triangle-up", "filled": true, "size": 30, "opacity": 1, "color": "#9e9e9e"},
       "encoding": {
         "x": {"field": "staining", "type": "quantitative", "title": "Staining (MFI)", "scale": {"domain": [0, 3000], "nice": false, "zero": false}, "axis": {"values": [0, 1000, 2000, 3000], "format": "d", "labelFontSize": 8.5, "titleFontSize": 9.5, "titlePadding": 2, "labelOverlap": false}},
         "y": {"field": "adcc", "type": "quantitative", "title": "% ADCC", "scale": {"domain": [-5, 20], "nice": false, "zero": false}, "axis": {"values": [-5, 0, 5, 10, 15, 20], "labelFontSize": 9.5, "titleFontSize": 10, "titleX": -31.3, "titleBaseline": "middle", "labelOverlap": false}}
       }},
      {"data": {"name": "samples"}, "transform": [{"filter": "datum.cond === '+'"}, {"regression": "adcc", "on": "staining"}],
       "mark": {"type": "line", "color": "#333333", "strokeWidth": 1},
       "encoding": {
         "x": {"field": "staining", "type": "quantitative", "title": "Staining (MFI)", "scale": {"domain": [0, 3000], "nice": false, "zero": false}, "axis": {"values": [0, 1000, 2000, 3000], "format": "d", "labelFontSize": 8.5, "titleFontSize": 9.5, "titlePadding": 2, "labelOverlap": false}},
         "y": {"field": "adcc", "type": "quantitative", "title": "% ADCC", "scale": {"domain": [-5, 20], "nice": false, "zero": false}, "axis": {"values": [-5, 0, 5, 10, 15, 20], "labelFontSize": 9.5, "titleFontSize": 10, "titleX": -31.3, "titleBaseline": "middle", "labelOverlap": false}}
       }},
      {"data": {"values": [{}]},
       "mark": {"type": "text", "align": "left", "baseline": "middle", "fontSize": 10, "lineHeight": 11},
       "encoding": {
         "x": {"datum": 2650, "type": "quantitative", "title": "Staining (MFI)", "scale": {"domain": [0, 3000], "nice": false, "zero": false}, "axis": {"values": [0, 1000, 2000, 3000], "format": "d", "labelFontSize": 8.5, "titleFontSize": 9.5, "titlePadding": 2, "labelOverlap": false}},
         "y": {"datum": 1.95, "type": "quantitative", "title": "% ADCC", "scale": {"domain": [-5, 20], "nice": false, "zero": false}, "axis": {"values": [-5, 0, 5, 10, 15, 20], "labelFontSize": 9.5, "titleFontSize": 10, "titleX": -31.3, "titleBaseline": "middle", "labelOverlap": false}},
         "text": {"value": ["r = 0.3723", "p = 0.0611"]}
       }},
      {"data": {"values": [{}]},
       "mark": {"type": "text", "align": "center", "baseline": "middle", "fontSize": 10.5, "color": "#9e9e9e"},
       "encoding": {
         "x": {"datum": 1500, "type": "quantitative", "title": "Staining (MFI)", "scale": {"domain": [0, 3000], "nice": false, "zero": false}, "axis": {"values": [0, 1000, 2000, 3000], "format": "d", "labelFontSize": 8.5, "titleFontSize": 9.5, "titlePadding": 2, "labelOverlap": false}},
         "y": {"datum": 20, "type": "quantitative", "title": "% ADCC", "scale": {"domain": [-5, 20], "nice": false, "zero": false}, "axis": {"values": [-5, 0, 5, 10, 15, 20], "labelFontSize": 9.5, "titleFontSize": 10, "titleX": -31.3, "titleBaseline": "middle", "labelOverlap": false}},
         "text": {"value": "+ BNM-III-170"}
       }}
    ]
  }
  ],
  "spacing": 90,
  "bounds": "flush",
  "resolve": {"scale": {"color": "independent", "shape": "independent"}, "legend": {"color": "independent", "shape": "independent"}}
},
{
  "hconcat": [
  {
    "width": 188, "height": 123,
    "title": {"text": "E", "offset": -24},
    "layer": [
      {"data": {"name": "samples"},
       "mark": {"type": "errorbar", "extent": "stderr", "color": "#000000", "thickness": 1.5, "ticks": {"size": 36}},
       "encoding": {
         "x": {"field": "cond", "type": "nominal", "title": null, "scale": {"domain": ["-", "+"], "paddingInner": 0.4, "paddingOuter": 0.2}, "axis": {"labelAngle": 0, "labelFontSize": 9, "labelOverlap": false, "labelExpr": "datum.value === '-' ? 'Non-neutralizing' : 'Neutralizing'"}},
         "y": {"field": "staining", "type": "quantitative", "title": "Staining (MFI)", "scale": {"domain": [0, 3000], "nice": false, "zero": false}, "axis": {"values": [0, 1000, 2000, 3000], "format": "d", "labelFontSize": 10, "titleX": -32.7, "titleBaseline": "middle", "labelOverlap": false}}
       }},
      {"data": {"name": "samples"},
       "mark": {"type": "tick", "color": "#000000", "size": 62, "thickness": 1.5},
       "encoding": {
         "x": {"field": "cond", "type": "nominal", "title": null, "scale": {"domain": ["-", "+"], "paddingInner": 0.4, "paddingOuter": 0.2}, "axis": {"labelAngle": 0, "labelFontSize": 9, "labelOverlap": false, "labelExpr": "datum.value === '-' ? 'Non-neutralizing' : 'Neutralizing'"}},
         "y": {"aggregate": "mean", "field": "staining", "type": "quantitative", "title": "Staining (MFI)", "scale": {"domain": [0, 3000], "nice": false, "zero": false}, "axis": {"values": [0, 1000, 2000, 3000], "format": "d", "labelFontSize": 10, "titleX": -32.7, "titleBaseline": "middle", "labelOverlap": false}}
       }},
      {"data": {"name": "samples"},
       "mark": {"type": "point", "filled": true, "size": 32, "opacity": 1, "color": "#000000"},
       "encoding": {
         "x": {"field": "cond", "type": "nominal", "title": null, "scale": {"domain": ["-", "+"], "paddingInner": 0.4, "paddingOuter": 0.2}, "axis": {"labelAngle": 0, "labelFontSize": 9, "labelOverlap": false, "labelExpr": "datum.value === '-' ? 'Non-neutralizing' : 'Neutralizing'"}},
         "xOffset": {"field": "id", "type": "nominal", "sort": {"field": "adcc", "op": "mean"}, "scale": {"paddingInner": 0, "paddingOuter": 0}},
         "y": {"field": "staining", "type": "quantitative", "title": "Staining (MFI)", "scale": {"domain": [0, 3000], "nice": false, "zero": false}, "axis": {"values": [0, 1000, 2000, 3000], "format": "d", "labelFontSize": 10, "titleX": -32.7, "titleBaseline": "middle", "labelOverlap": false}},
         "shape": {"field": "cond", "type": "nominal", "scale": {"domain": ["-", "+"], "range": ["circle", "square"]}, "legend": null}
       }},
      {"data": {"values": [{}]},
       "mark": {"type": "rule", "color": "#000000", "strokeWidth": 1},
       "encoding": {
         "x": {"datum": "-", "type": "nominal", "title": null, "scale": {"domain": ["-", "+"], "paddingInner": 0.4, "paddingOuter": 0.2}, "axis": {"labelAngle": 0, "labelFontSize": 9, "labelOverlap": false, "labelExpr": "datum.value === '-' ? 'Non-neutralizing' : 'Neutralizing'"}},
         "x2": {"datum": "+"},
         "y": {"datum": 3080, "type": "quantitative", "title": "Staining (MFI)", "scale": {"domain": [0, 3000], "nice": false, "zero": false}, "axis": {"values": [0, 1000, 2000, 3000], "format": "d", "labelFontSize": 10, "titleX": -32.7, "titleBaseline": "middle", "labelOverlap": false}}
       }},
      {"data": {"values": [{}]},
       "mark": {"type": "text", "align": "center", "baseline": "alphabetic", "fontSize": 9, "dy": -1},
       "encoding": {
         "x": {"datum": "-", "bandPosition": 1.3333, "type": "nominal", "title": null, "scale": {"domain": ["-", "+"], "paddingInner": 0.4, "paddingOuter": 0.2}, "axis": {"labelAngle": 0, "labelFontSize": 9, "labelOverlap": false, "labelExpr": "datum.value === '-' ? 'Non-neutralizing' : 'Neutralizing'"}},
         "y": {"datum": 3080, "type": "quantitative", "title": "Staining (MFI)", "scale": {"domain": [0, 3000], "nice": false, "zero": false}, "axis": {"values": [0, 1000, 2000, 3000], "format": "d", "labelFontSize": 10, "titleX": -32.7, "titleBaseline": "middle", "labelOverlap": false}},
         "text": {"value": "***"}
       }},
      {"data": {"values": [{}]},
       "mark": {"type": "text", "align": "center", "baseline": "middle", "fontSize": 16.5},
       "encoding": {
         "x": {"datum": "-", "bandPosition": 1.3333, "type": "nominal", "title": null, "scale": {"domain": ["-", "+"], "paddingInner": 0.4, "paddingOuter": 0.2}, "axis": {"labelAngle": 0, "labelFontSize": 9, "labelOverlap": false, "labelExpr": "datum.value === '-' ? 'Non-neutralizing' : 'Neutralizing'"}},
         "y": {"datum": 3664, "type": "quantitative", "title": "Staining (MFI)", "scale": {"domain": [0, 3000], "nice": false, "zero": false}, "axis": {"values": [0, 1000, 2000, 3000], "format": "d", "labelFontSize": 10, "titleX": -32.7, "titleBaseline": "middle", "labelOverlap": false}},
         "text": {"value": "Staining"}
       }}
    ]
  },
  {
    "width": 190, "height": 123,
    "title": {"text": "F", "offset": -24, "dx": -13.5},
    "layer": [
      {"data": {"name": "samples"},
       "mark": {"type": "errorbar", "extent": "stderr", "color": "#000000", "thickness": 1.5, "ticks": {"size": 36}},
       "encoding": {
         "x": {"field": "cond", "type": "nominal", "title": null, "scale": {"domain": ["-", "+"], "paddingInner": 0.4, "paddingOuter": 0.2}, "axis": {"labelAngle": 0, "labelFontSize": 9, "labelOverlap": false, "labelExpr": "datum.value === '-' ? 'Non-neutralizing' : 'Neutralizing'"}},
         "y": {"field": "adcc", "type": "quantitative", "title": "% ADCC", "scale": {"domain": [-5, 20], "nice": false, "zero": false}, "axis": {"values": [-5, 0, 5, 10, 15, 20], "labelFontSize": 10, "titleX": -21.3, "titleBaseline": "middle", "labelOverlap": false}}
       }},
      {"data": {"name": "samples"},
       "mark": {"type": "tick", "color": "#000000", "size": 62, "thickness": 1.5},
       "encoding": {
         "x": {"field": "cond", "type": "nominal", "title": null, "scale": {"domain": ["-", "+"], "paddingInner": 0.4, "paddingOuter": 0.2}, "axis": {"labelAngle": 0, "labelFontSize": 9, "labelOverlap": false, "labelExpr": "datum.value === '-' ? 'Non-neutralizing' : 'Neutralizing'"}},
         "y": {"aggregate": "mean", "field": "adcc", "type": "quantitative", "title": "% ADCC", "scale": {"domain": [-5, 20], "nice": false, "zero": false}, "axis": {"values": [-5, 0, 5, 10, 15, 20], "labelFontSize": 10, "titleX": -21.3, "titleBaseline": "middle", "labelOverlap": false}}
       }},
      {"data": {"name": "samples"},
       "mark": {"type": "point", "filled": true, "size": 32, "opacity": 1, "color": "#000000"},
       "encoding": {
         "x": {"field": "cond", "type": "nominal", "title": null, "scale": {"domain": ["-", "+"], "paddingInner": 0.4, "paddingOuter": 0.2}, "axis": {"labelAngle": 0, "labelFontSize": 9, "labelOverlap": false, "labelExpr": "datum.value === '-' ? 'Non-neutralizing' : 'Neutralizing'"}},
         "xOffset": {"field": "id", "type": "nominal", "sort": {"field": "staining", "op": "mean"}, "scale": {"paddingInner": 0, "paddingOuter": 0}},
         "y": {"field": "adcc", "type": "quantitative", "title": "% ADCC", "scale": {"domain": [-5, 20], "nice": false, "zero": false}, "axis": {"values": [-5, 0, 5, 10, 15, 20], "labelFontSize": 10, "titleX": -21.3, "titleBaseline": "middle", "labelOverlap": false}},
         "shape": {"field": "cond", "type": "nominal", "scale": {"domain": ["-", "+"], "range": ["circle", "square"]}, "legend": null}
       }},
      {"data": {"values": [{}]},
       "mark": {"type": "rule", "color": "#000000", "strokeWidth": 1},
       "encoding": {
         "x": {"datum": "-", "type": "nominal", "title": null, "scale": {"domain": ["-", "+"], "paddingInner": 0.4, "paddingOuter": 0.2}, "axis": {"labelAngle": 0, "labelFontSize": 9, "labelOverlap": false, "labelExpr": "datum.value === '-' ? 'Non-neutralizing' : 'Neutralizing'"}},
         "x2": {"datum": "+"},
         "y": {"datum": 20.7, "type": "quantitative", "title": "% ADCC", "scale": {"domain": [-5, 20], "nice": false, "zero": false}, "axis": {"values": [-5, 0, 5, 10, 15, 20], "labelFontSize": 10, "titleX": -21.3, "titleBaseline": "middle", "labelOverlap": false}}
       }},
      {"data": {"values": [{}]},
       "mark": {"type": "text", "align": "center", "baseline": "alphabetic", "fontSize": 9, "dy": -1},
       "encoding": {
         "x": {"datum": "-", "bandPosition": 1.3333, "type": "nominal", "title": null, "scale": {"domain": ["-", "+"], "paddingInner": 0.4, "paddingOuter": 0.2}, "axis": {"labelAngle": 0, "labelFontSize": 9, "labelOverlap": false, "labelExpr": "datum.value === '-' ? 'Non-neutralizing' : 'Neutralizing'"}},
         "y": {"datum": 20.7, "type": "quantitative", "title": "% ADCC", "scale": {"domain": [-5, 20], "nice": false, "zero": false}, "axis": {"values": [-5, 0, 5, 10, 15, 20], "labelFontSize": 10, "titleX": -21.3, "titleBaseline": "middle", "labelOverlap": false}},
         "text": {"value": "***"}
       }},
      {"data": {"values": [{}]},
       "mark": {"type": "text", "align": "center", "baseline": "middle", "fontSize": 16.5},
       "encoding": {
         "x": {"datum": "-", "bandPosition": 1.3333, "type": "nominal", "title": null, "scale": {"domain": ["-", "+"], "paddingInner": 0.4, "paddingOuter": 0.2}, "axis": {"labelAngle": 0, "labelFontSize": 9, "labelOverlap": false, "labelExpr": "datum.value === '-' ? 'Non-neutralizing' : 'Neutralizing'"}},
         "y": {"datum": 25.5, "type": "quantitative", "title": "% ADCC", "scale": {"domain": [-5, 20], "nice": false, "zero": false}, "axis": {"values": [-5, 0, 5, 10, 15, 20], "labelFontSize": 10, "titleX": -21.3, "titleBaseline": "middle", "labelOverlap": false}},
         "text": {"value": "ADCC"}
       }}
    ]
  }
  ],
  "spacing": 69,
  "bounds": "flush",
  "resolve": {"scale": {"shape": "independent", "xOffset": "independent"}, "legend": {"shape": "independent"}}
}
]
}
]
}
